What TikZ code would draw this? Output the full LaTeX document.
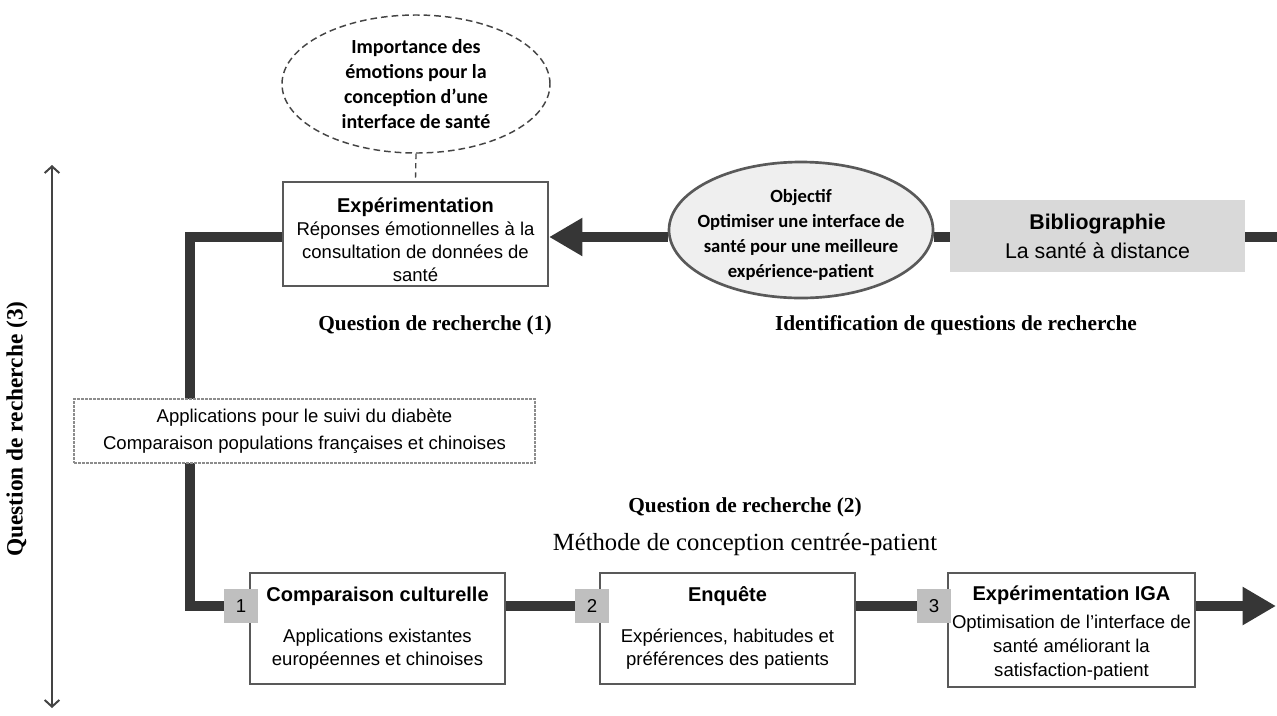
\documentclass[tikz,border=0pt]{standalone}
\usepackage{fontspec}
\setmainfont{Liberation Serif}
\newfontfamily\arialf{Liberation Sans}
\newfontfamily\calf{Carlito}
\usetikzlibrary{arrows.meta,shapes.geometric}
\definecolor{lineC}{HTML}{363636}
\definecolor{boxC}{HTML}{595959}
\definecolor{sqC}{HTML}{BFBFBF}
\definecolor{ellC}{HTML}{EFEFEF}
\definecolor{biC}{HTML}{D9D9D9}
\definecolor{dashC}{HTML}{444444}
\definecolor{dgrey}{HTML}{8C8C8C}
\pgfdeclarelayer{bg}
\pgfsetlayers{bg,main}
\begin{document}
\begin{tikzpicture}[x=0.75pt,y=-0.75pt,
  flow/.style={draw=lineC,line width=7.5pt,line join=miter},
  bigtip/.style={-{Triangle[length=25pt,width=27pt]}},
  wbox/.style={draw=boxC,line width=1.6pt,fill=white,inner sep=0},
  sq/.style={fill=sqC,inner sep=0,minimum width=25.5pt,minimum height=25.5pt,font=\arialf\fontsize{14}{16}\selectfont},
  sans/.style={font=\arialf\fontsize{13.9}{17.25}\selectfont,align=center,inner sep=0},
  ser/.style={font=\bfseries\fontsize{16}{20}\selectfont,inner sep=0},
  vline/.style={draw=dashC,line width=1.5pt,{Straight Barb[length=5pt,width=11pt,line width=1.5pt]}-{Straight Barb[length=5pt,width=11pt,line width=1.5pt]}}
]
\useasboundingbox (0,0) rectangle (1277,715);

% top row
\node[wbox,minimum width=198.75pt,minimum height=78pt] (exp) at (415.5,234) {};
\node[sans] (expT) at (415.5,240) {{\bfseries\fontsize{15}{18}\selectfont Expérimentation}\\Réponses émotionnelles à la\\consultation de données de\\santé};

\node[ellipse,draw=dashC,dashed,dash pattern=on 5pt off 3pt,line width=1.1pt,minimum width=201pt,minimum height=103.5pt,inner sep=0,align=center,font=\calf\bfseries\fontsize{15}{18.75}\selectfont] (imp) at (416,84) {Importance des\\émotions pour la\\conception d’une\\interface de santé};

\node[ellipse,draw=boxC,fill=ellC,line width=2pt,minimum width=198pt,minimum height=102pt,inner sep=0] (obj) at (801,230) {};
\node[align=center,inner sep=0,font=\calf\bfseries\fontsize{14}{18.75}\selectfont] (objT) at (801,235) {Objectif\\Optimiser une interface de\\santé pour une meilleure\\expérience-patient};

\node[fill=biC,minimum width=221pt,minimum height=54pt,inner sep=0,align=center,font=\arialf\fontsize{16}{21.75}\selectfont] (bib) at (1097.5,236) {{\bfseries Bibliographie}\\La santé à distance};

% bottom row
\node[wbox,minimum width=191.25pt,minimum height=83.25pt] (b1) at (377.5,628.5) {};
\node[sans] (b1T) at (377.5,628) {{\bfseries\fontsize{15}{18}\selectfont Comparaison culturelle}\\[13.5pt]Applications existantes\\européennes et chinoises};
\node[wbox,minimum width=191.25pt,minimum height=83.25pt] (b2) at (727.5,628.5) {};
\node[sans] (b2T) at (727.5,628) {{\bfseries\fontsize{15}{18}\selectfont Enquête}\\[13.5pt]Expériences, habitudes et\\préférences des patients};
\node[wbox,minimum width=185.25pt,minimum height=85.5pt] (b3) at (1071.5,630) {};
\node[sans,font=\arialf\fontsize{13.9}{18}\selectfont] (b3T) at (1071.5,633) {{\bfseries\fontsize{15}{18}\selectfont Expérimentation IGA}\\[3pt]Optimisation de l’interface de\\santé améliorant la\\satisfaction-patient};

\node[sq] (sq1) at (241,606) {1};
\node[sq] (sq2) at (592,606) {2};
\node[sq] (sq3) at (934,606) {3};

% connectors
\coordinate (ty) at (0,237);
\coordinate (endR) at (1277,237);
\coordinate (c1) at (190,237);
\coordinate (c2) at (190,606);
\coordinate (endB) at (1276,606);
\begin{pgfonlayer}{bg}
\draw[flow] (bib.east |- ty) -- (endR);
\draw[flow] (bib.west |- ty) -- (obj.east |- ty);
\draw[flow,bigtip] (obj.west |- ty) -- (exp.east |- ty);
\draw[flow] (exp.west |- ty) -- (c1) -- (c2) -- (sq1.west);
\draw[flow] (b1.east |- sq2.west) -- (sq2.west);
\draw[flow] (b2.east |- sq3.west) -- (sq3.west);
\draw[flow,bigtip] (b3.east |- sq3.east) -- (endB);
\end{pgfonlayer}
\draw[draw=dashC,dashed,dash pattern=on 4pt off 3pt,line width=1pt] (imp.south) -- (exp.north);

\node[draw=dgrey,dashed,dash pattern=on 2pt off 1pt,line width=0.8pt,fill=white,minimum width=345.75pt,minimum height=48pt,inner sep=0,align=center,font=\arialf\fontsize{13.9}{20.25}\selectfont] (app) at (304.5,431) {Applications pour le suivi du diabète\\Comparaison populations françaises et chinoises};

% labels
\node[ser] (q1) at (435,325) {Question de recherche (1)};
\node[ser] (idq) at (956,325) {Identification de questions de recherche};
\node[ser] (q2) at (745,507) {Question de recherche (2)};
\node[font=\fontsize{18.5}{22}\selectfont,inner sep=0] (meth) at (745,545) {Méthode de conception centrée-patient};
\node[ser,font=\bfseries\fontsize{17.5}{20}\selectfont,rotate=90] (q3) at (17,429) {Question de recherche (3)};

% vertical arrow
\coordinate (va) at (52,708);
\coordinate (vb) at (52,165);
\draw[vline] (va) -- (vb);
\end{tikzpicture}
\end{document}
